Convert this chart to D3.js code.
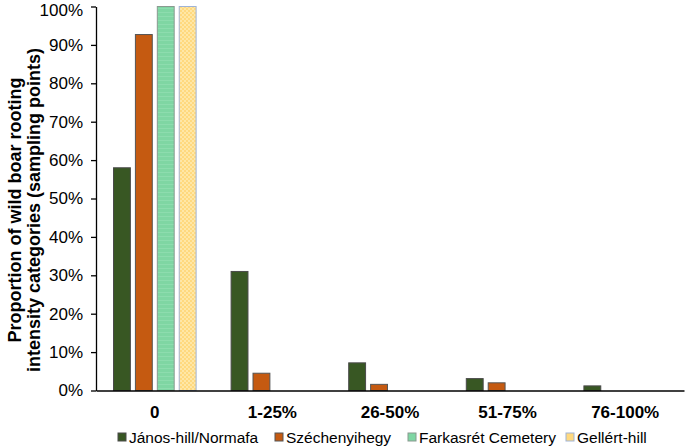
<!DOCTYPE html>
<html><head><meta charset="utf-8">
<script src="https://cdn.jsdelivr.net/npm/d3@7"></script>
<style>body{margin:0;background:#fff}svg{display:block;font-family:"Liberation Sans",Arial,sans-serif}</style>
</head><body><svg id="c" width="685" height="448"></svg>
<script>
const categories = ["0","1-25%","26-50%","51-75%","76-100%"];
const seriesNames = ["János-hill/Normafa","Széchenyihegy","Farkasrét Cemetery","Gellért-hill"];
const janos = [58, 31, 7.2, 3.1, 1.2];
const szechenyi = [92.7, 4.5, 1.6, 2.0, 0];
const farkasret = [100, 0, 0, 0, 0];
const gellert = [100, 0, 0, 0, 0];
const yTicks = [0,10,20,30,40,50,60,70,80,90,100];

const series = [janos, szechenyi, farkasret, gellert];
const fills = ["#385723", "#C55A11", "url(#pStripe)", "url(#pCheck)"];
const strokes = ["#4a4a4a", "#555", "#8a9a90", "#9fb3d6"];
const legendFills = ["#385723", "#C55A11", "#7fd6a3", "#ffd97f"];

const svg = d3.select("#c");
const defs = svg.append("defs");
const ps = defs.append("pattern").attr("id","pStripe").attr("patternUnits","userSpaceOnUse").attr("width",4).attr("height",4);
ps.append("rect").attr("width",4).attr("height",4).attr("fill","#7fd6a3");
ps.append("rect").attr("width",4).attr("height",1).attr("fill","#8ddcae");
const pc = defs.append("pattern").attr("id","pCheck").attr("patternUnits","userSpaceOnUse").attr("width",4).attr("height",4);
pc.append("rect").attr("width",4).attr("height",4).attr("fill","#ffd97f");
pc.append("rect").attr("width",2).attr("height",2).attr("fill","#ffe7a6");
pc.append("rect").attr("x",2).attr("y",2).attr("width",2).attr("height",2).attr("fill","#ffe7a6");

const x0 = d3.scaleBand().domain(categories).range([96, 684]).padding(0);
const x1 = d3.scaleBand().domain(d3.range(series.length)).range([17.5, x0.bandwidth()-17.5]).paddingInner(0.23);
const y = d3.scaleLinear().domain([0,100]).range([390.5, 6.5]);

// bars
series.forEach((vals, si) => {
  svg.append("g").selectAll("rect").data(vals.map((v,i)=>({v, c:categories[i]})).filter(d=>d.v>0))
    .join("rect")
    .attr("x", d => x0(d.c) + x1(si))
    .attr("width", x1.bandwidth())
    .attr("y", d => y(d.v))
    .attr("height", d => y(0) - y(d.v))
    .attr("fill", fills[si])
    .attr("stroke", strokes[si])
    .attr("stroke-width", 1);
});

// y axis
const yAxis = d3.axisLeft(y).tickValues(yTicks).tickFormat(d => d + "%").tickSize(5).tickSizeOuter(0);
const gy = svg.append("g").attr("transform","translate(96,0)").call(yAxis);
gy.select(".domain").attr("stroke","#000").attr("stroke-width",1.3);
gy.selectAll(".tick line").attr("stroke","#000").attr("stroke-width",1.3);
gy.selectAll(".tick text").attr("font-size",17).attr("fill","#000").attr("x",-13).attr("font-family","Liberation Sans, Arial, sans-serif")
  .attr("dy", d => d === 100 ? "0.5em" : "0.32em");

// x axis
const xAxis = d3.axisBottom(x0).tickSize(0).tickSizeOuter(0);
const gx = svg.append("g").attr("transform","translate(0,390.5)").call(xAxis);
gx.select(".domain").attr("stroke","#000").attr("stroke-width",1.3);
gx.selectAll(".tick text").attr("font-size",17).attr("font-weight","bold").attr("fill","#000").attr("dy","0").attr("y",27).attr("font-family","Liberation Sans, Arial, sans-serif");

// y title
const t = svg.append("text").attr("transform","translate(0,210) rotate(-90)")
  .attr("text-anchor","middle").attr("font-size",18).attr("font-weight","bold").attr("fill","#000");
t.append("tspan").attr("x",0).attr("y",21).text("Proportion of wild boar rooting");
t.append("tspan").attr("x",0).attr("y",40).text("intensity categories (sampling points)");

// legend
const legX = [118, 275, 408, 566];
const lg = svg.append("g");
seriesNames.forEach((n,i) => {
  lg.append("rect").attr("x",legX[i]).attr("y",433).attr("width",8).attr("height",8)
    .attr("fill",legendFills[i]).attr("stroke",strokes[i]).attr("stroke-width",1);
  lg.append("text").attr("x",legX[i]+11).attr("y",443).attr("font-size",15.5).attr("fill","#000").text(n);
});
</script></body></html>
